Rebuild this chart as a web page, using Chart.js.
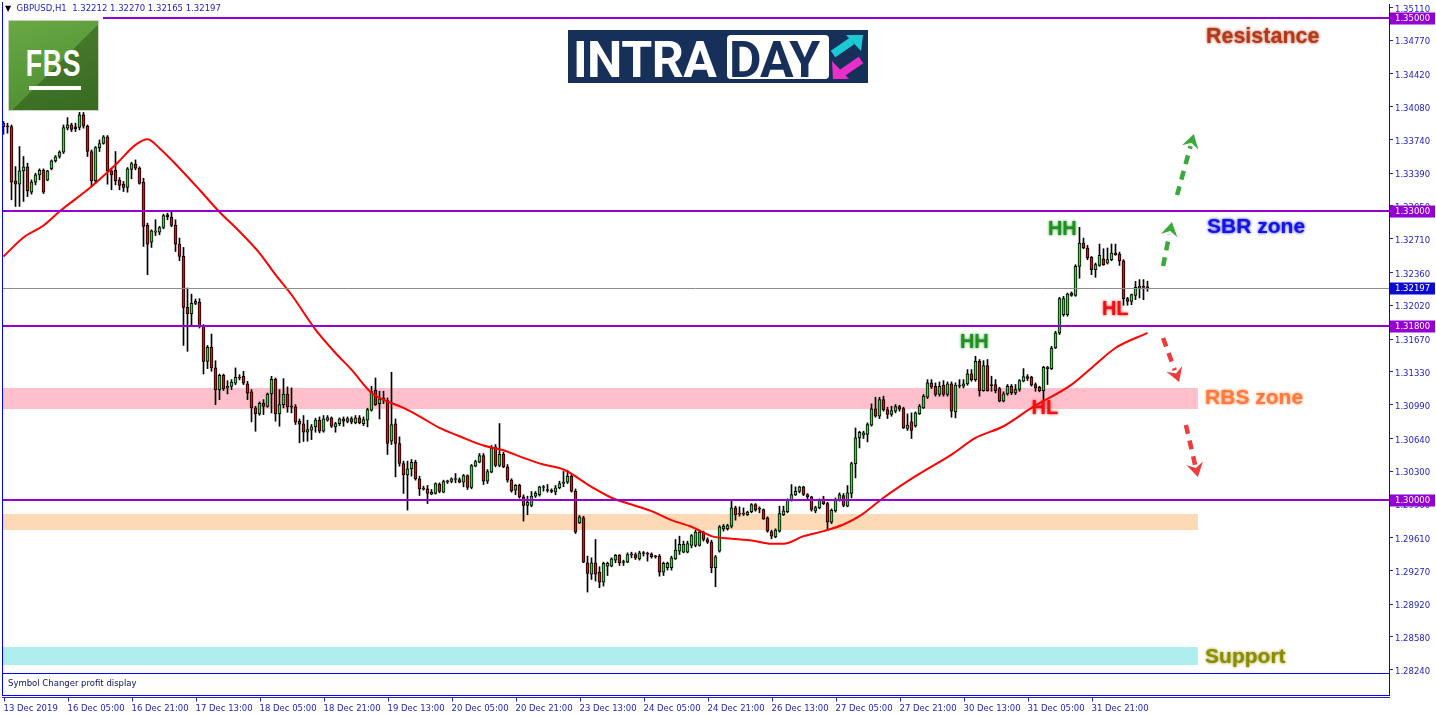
<!DOCTYPE html>
<html>
<head>
<meta charset="utf-8">
<script src="https://cdn.jsdelivr.net/npm/chart.js@4.4.1/dist/chart.umd.min.js"></script>
<style>
  html, body { margin: 0; padding: 0; background: #fff; }
  #wrap { position: relative; width: 1436px; height: 716px; overflow: hidden; }
  #chart { position: absolute; left: 0; top: 0; }
  #header { position: absolute; left: 5px; top: 3px; font: 8.5px "DejaVu Sans", sans-serif; color: #2323c0; white-space: pre; }
  #header b { font-weight: normal; color: #000; font-size: 8px; }
  #fbsBox { position: absolute; left: 3px; top: 13px; width: 100px; height: 99px; background: #fff; }
  #fbs { position: absolute; left: 8px; top: 20px; width: 89px; height: 89px; border: 1px solid #c8d4c0;
         background: linear-gradient(135deg, rgba(0,0,0,0) 52%, rgba(20,50,10,0.35) 52%), linear-gradient(160deg, #6aa845, #4a8a2c); overflow: hidden; }
  #fbs span { position: absolute; left: 2px; top: 22px; width: 85px; text-align: center; font: bold 37px "Liberation Sans", Arial, sans-serif; color: #fff; transform: scaleX(0.72); letter-spacing: 1px; }
  #fbs i { position: absolute; left: 20px; top: 65px; width: 52px; height: 4px; background: #fff; }
  #intraday { position: absolute; left: 568px; top: 30px; width: 300px; height: 53px; background: #17305a; }
  #intraday .intra { position: absolute; left: 5px; top: 1px; font: bold 50px Roboto, sans-serif; color: #fff; letter-spacing: -0.5px; }
  #intraday .day { position: absolute; left: 159px; top: 5px; width: 102px; height: 44px; background: #fff; border-radius: 4px; }
  #intraday .day span { position: absolute; left: 2px; top: -4px; font: bold 50px Roboto, sans-serif; color: #17305a; letter-spacing: -1px; }
  #intraday svg { position: absolute; left: 262px; top: 4px; }
  #sympanel { position: absolute; left: 2px; top: 673px; width: 1386px; height: 21px; border: 1px solid #0000ff; }
  #sympanel span { position: absolute; left: 5px; top: 4px; font: 8.5px "DejaVu Sans", sans-serif; color: #101060; }
</style>
</head>
<body>
<div id="wrap">
  <canvas id="chart" width="1436" height="716"></canvas>
  <div id="header"><b>&#9660;</b>  GBPUSD,H1  1.32212 1.32270 1.32165 1.32197</div>
  <div id="fbsBox"></div>
  <div id="fbs"><span>FBS</span><i></i></div>
  <div id="intraday">
    <div class="intra">INTRA</div>
    <div class="day"><span>DAY</span></div>
    <svg width="34" height="46" viewBox="0 0 34 46">
      <line x1="3" y1="20" x2="22" y2="7" stroke="#1ec9d6" stroke-width="8"/>
      <polygon points="16,1 33,1 31,17" fill="#1ec9d6"/>
      <line x1="31" y1="26" x2="12" y2="39" stroke="#ea2ec9" stroke-width="8"/>
      <polygon points="2,27 3,45 19,45" fill="#ea2ec9"/>
    </svg>
  </div>
  <div id="sympanel"><span>Symbol Changer profit display</span></div>
</div>
<script>
// GBPUSD H1 candles, bar 0 = 13 Dec 2019
const opens = [
  1.33909,1.33877,1.33874,1.33311,1.33276,1.33414,1.33456,1.33193,1.33297,1.33373,
  1.33421,1.33318,1.33435,1.33518,1.33563,1.33608,1.33857,1.33891,1.33870,1.33864,
  1.33995,1.33877,1.33615,1.33311,1.33656,1.33698,1.33767,1.33414,1.33421,1.33318,
  1.33276,1.33242,1.33428,1.33484,1.33442,1.33297,1.32848,1.32675,1.32779,1.32779,
  1.32827,1.32958,1.32931,1.32848,1.32655,1.32527,1.31998,1.31929,1.32040,1.32053,
  1.31801,1.31438,1.31584,1.31370,1.31141,1.31294,1.31162,1.31179,1.31211,1.31273,
  1.31283,1.31204,1.31121,1.30955,1.30893,1.31003,1.30972,1.31100,1.31252,1.30893,
  1.30990,1.31100,1.30969,1.30966,1.30817,1.30790,1.30703,1.30724,1.30758,1.30828,
  1.30714,1.30828,1.30852,1.30758,1.30793,1.30841,1.30814,1.30845,1.30800,1.30852,
  1.30793,1.30828,1.30931,1.31138,1.31000,1.31059,1.31035,1.30610,1.30790,1.30586,
  1.30379,1.30261,1.30323,1.30392,1.30220,1.30120,1.30116,1.30061,1.30068,1.30164,
  1.30081,1.30195,1.30192,1.30213,1.30213,1.30185,1.30254,1.30130,1.30351,1.30392,
  1.30461,1.30195,1.30289,1.30551,1.30358,1.30475,1.30344,1.30206,1.30102,1.30151,
  1.30033,1.29943,1.29943,1.30040,1.30054,1.30130,1.30105,1.30102,1.30085,1.30126,
  1.30171,1.30185,1.30247,1.30091,1.29763,1.29815,1.29349,1.29231,1.29349,1.29252,
  1.29148,1.29314,1.29314,1.29376,1.29425,1.29359,1.29356,1.29438,1.29435,1.29390,
  1.29452,1.29445,1.29438,1.29418,1.29418,1.29252,1.29297,1.29297,1.29390,1.29469,
  1.29459,1.29459,1.29528,1.29528,1.29528,1.29666,1.29590,1.29563,1.29297,1.29469,
  1.29701,1.29701,1.29728,1.29918,1.29860,1.29860,1.29849,1.29880,1.29953,1.29911,
  1.29901,1.29815,1.29673,1.29618,1.29677,1.29849,1.29880,1.29998,1.30053,1.30088,
  1.30136,1.30057,1.30032,1.29887,1.29918,1.30012,1.29963,1.29770,1.29887,1.29998,
  1.30046,1.29936,1.30067,1.30378,1.30644,1.30673,1.30679,1.30776,1.30945,1.30869,
  1.31042,1.30938,1.30887,1.30921,1.30970,1.30949,1.30742,1.30811,1.30769,1.30893,
  1.30956,1.31066,1.31215,1.31180,1.31094,1.31191,1.31094,1.31204,1.30914,1.31187,
  1.31180,1.31204,1.31308,1.31249,1.31439,1.31135,1.31394,1.31194,1.31198,1.31156,
  1.31025,1.31101,1.31180,1.31111,1.31146,1.31232,1.31280,1.31274,1.31198,1.31170,
  1.31135,1.31363,1.31363,1.31577,1.31733,1.31923,1.31923,1.32147,1.32123,1.32424,
  1.32665,1.32614,1.32517,1.32389,1.32434,1.32503,1.32458,1.32493,1.32562,1.32551,
  1.32482,1.32089,1.32061,1.32123,1.32199,1.32213,1.32212
];
const highs = [
  1.33926,1.33909,1.33891,1.33459,1.33667,1.33563,1.33494,1.33321,1.33390,1.33435,
  1.33435,1.33421,1.33528,1.33573,1.33622,1.33891,1.33967,1.33909,1.33909,1.34029,
  1.34020,1.33891,1.33632,1.33667,1.33736,1.33781,1.33781,1.33442,1.33615,1.33345,
  1.33304,1.33449,1.33504,1.33528,1.33456,1.33338,1.32872,1.32803,1.32907,1.32838,
  1.32965,1.32976,1.32986,1.32907,1.32717,1.32620,1.32199,1.32136,1.32085,1.32088,
  1.31819,1.31604,1.31722,1.31445,1.31307,1.31307,1.31238,1.31249,1.31370,1.31300,
  1.31335,1.31231,1.31145,1.30972,1.31017,1.31041,1.31110,1.31283,1.31266,1.31145,
  1.31259,1.31173,1.31163,1.30990,1.30841,1.30876,1.30828,1.30783,1.30848,1.30862,
  1.30876,1.30876,1.30862,1.30807,1.30852,1.30862,1.30862,1.30862,1.30876,1.30876,
  1.30862,1.30952,1.31180,1.31266,1.31128,1.31128,1.31059,1.31325,1.30841,1.30655,
  1.30403,1.30403,1.30420,1.30413,1.30247,1.30144,1.30151,1.30109,1.30178,1.30178,
  1.30206,1.30206,1.30230,1.30275,1.30230,1.30265,1.30261,1.30368,1.30413,1.30482,
  1.30482,1.30316,1.30565,1.30575,1.30793,1.30496,1.30368,1.30220,1.30161,1.30164,
  1.30054,1.30040,1.30088,1.30088,1.30144,1.30151,1.30161,1.30116,1.30151,1.30195,
  1.30296,1.30309,1.30261,1.30115,1.29839,1.29832,1.29418,1.29400,1.29590,1.29307,
  1.29356,1.29356,1.29400,1.29435,1.29435,1.29376,1.29452,1.29459,1.29452,1.29469,
  1.29466,1.29459,1.29452,1.29425,1.29435,1.29356,1.29356,1.29418,1.29590,1.29625,
  1.29573,1.29573,1.29642,1.29687,1.29687,1.29677,1.29608,1.29583,1.29425,1.29735,
  1.29746,1.29749,1.29988,1.29936,1.29929,1.29918,1.29884,1.29963,1.29963,1.29929,
  1.29908,1.29825,1.29687,1.29701,1.29936,1.29936,1.30012,1.30160,1.30136,1.30143,
  1.30143,1.30067,1.30039,1.29936,1.30012,1.30039,1.29977,1.29908,1.30022,1.30074,
  1.30067,1.30150,1.30392,1.30747,1.30713,1.30714,1.30800,1.30997,1.31066,1.31066,
  1.31077,1.30963,1.30973,1.30990,1.30983,1.30963,1.30893,1.30904,1.30914,1.30990,
  1.31094,1.31249,1.31249,1.31215,1.31225,1.31239,1.31225,1.31225,1.31215,1.31249,
  1.31249,1.31353,1.31353,1.31491,1.31457,1.31446,1.31457,1.31284,1.31249,1.31170,
  1.31122,1.31198,1.31198,1.31198,1.31249,1.31363,1.31301,1.31284,1.31215,1.31180,
  1.31387,1.31387,1.31595,1.31750,1.32102,1.32113,1.32147,1.32158,1.32441,1.32828,
  1.32717,1.32641,1.32527,1.32458,1.32655,1.32607,1.32614,1.32655,1.32655,1.32572,
  1.32493,1.32102,1.32137,1.32268,1.32286,1.32286,1.32270
];
const lows = [
  1.33794,1.33805,1.33114,1.33045,1.33045,1.33097,1.33148,1.33173,1.33269,1.33321,
  1.33179,1.33311,1.33425,1.33504,1.33546,1.33594,1.33839,1.33822,1.33822,1.33839,
  1.33857,1.33563,1.33252,1.33287,1.33615,1.33691,1.33276,1.33218,1.33269,1.33218,
  1.33200,1.33193,1.33332,1.33425,1.33276,1.32630,1.32337,1.32620,1.32744,1.32751,
  1.32813,1.32907,1.32834,1.32578,1.32482,1.31604,1.31542,1.31819,1.32026,1.31784,
  1.31307,1.31363,1.31335,1.30990,1.31041,1.31135,1.31100,1.31145,1.31197,1.31245,
  1.31197,1.31041,1.30810,1.30713,1.30879,1.30886,1.30962,1.30903,1.30817,1.30765,
  1.30955,1.30910,1.30904,1.30783,1.30593,1.30607,1.30610,1.30627,1.30703,1.30696,
  1.30703,1.30817,1.30752,1.30703,1.30772,1.30765,1.30800,1.30790,1.30790,1.30790,
  1.30772,1.30758,1.30921,1.30980,1.30841,1.31000,1.30472,1.30575,1.30240,1.30351,
  1.30068,1.29895,1.30247,1.30206,1.30047,1.30102,1.29964,1.30054,1.30061,1.30075,
  1.30075,1.30171,1.30178,1.30178,1.30178,1.30137,1.30109,1.30116,1.30344,1.30385,
  1.30161,1.30171,1.30282,1.30344,1.30344,1.30334,1.30185,1.30081,1.30054,1.30019,
  1.29781,1.29847,1.29930,1.30026,1.30040,1.30092,1.30081,1.30075,1.30054,1.30116,
  1.30137,1.30171,1.30081,1.29653,1.29756,1.29349,1.29045,1.29176,1.29159,1.29090,
  1.29107,1.29217,1.29307,1.29349,1.29321,1.29321,1.29349,1.29400,1.29383,1.29376,
  1.29418,1.29366,1.29397,1.29397,1.29210,1.29217,1.29273,1.29273,1.29383,1.29435,
  1.29452,1.29452,1.29504,1.29514,1.29521,1.29573,1.29549,1.29245,1.29100,1.29459,
  1.29677,1.29687,1.29711,1.29791,1.29832,1.29839,1.29839,1.29867,1.29884,1.29867,
  1.29798,1.29666,1.29597,1.29608,1.29666,1.29839,1.29867,1.29988,1.30046,1.30074,
  1.30046,1.30012,1.29884,1.29867,1.29908,1.29953,1.29694,1.29756,1.29874,1.29988,
  1.29929,1.29929,1.30022,1.30229,1.30540,1.30638,1.30603,1.30766,1.30859,1.30845,
  1.30921,1.30845,1.30869,1.30904,1.30921,1.30742,1.30721,1.30638,1.30755,1.30887,
  1.30949,1.31052,1.31156,1.31077,1.31077,1.31077,1.31077,1.30859,1.30852,1.31163,
  1.31163,1.31191,1.31232,1.31232,1.31077,1.31128,1.31128,1.31128,1.31111,1.31018,
  1.31018,1.31087,1.31094,1.31094,1.31128,1.31225,1.31239,1.31180,1.31128,1.31122,
  1.31042,1.31198,1.31353,1.31571,1.31716,1.31906,1.31906,1.32113,1.32113,1.32300,
  1.32607,1.32493,1.32337,1.32310,1.32424,1.32434,1.32448,1.32482,1.32538,1.32434,
  1.32020,1.32020,1.32026,1.32078,1.32096,1.32078,1.32165
];
const closes = [
  1.33874,1.33870,1.33297,1.33276,1.33414,1.33456,1.33207,1.33297,1.33373,1.33421,
  1.33193,1.33414,1.33518,1.33560,1.33608,1.33864,1.33891,1.33843,1.33850,1.33995,
  1.33877,1.33615,1.33311,1.33656,1.33698,1.33767,1.33414,1.33373,1.33311,1.33262,
  1.33242,1.33435,1.33491,1.33442,1.33283,1.32838,1.32655,1.32793,1.32786,1.32827,
  1.32951,1.32938,1.32848,1.32655,1.32527,1.31998,1.31929,1.32040,1.32060,1.31801,
  1.31438,1.31584,1.31370,1.31141,1.31294,1.31155,1.31179,1.31224,1.31273,1.31266,
  1.31211,1.31107,1.30955,1.30893,1.31003,1.30972,1.31100,1.31252,1.30893,1.30990,
  1.31100,1.30966,1.30962,1.30807,1.30786,1.30703,1.30731,1.30758,1.30828,1.30714,
  1.30841,1.30855,1.30765,1.30793,1.30841,1.30817,1.30845,1.30807,1.30852,1.30800,
  1.30834,1.30938,1.31125,1.30990,1.31049,1.31035,1.30586,1.30783,1.30586,1.30379,
  1.30261,1.30323,1.30392,1.30220,1.30116,1.30113,1.30068,1.30081,1.30171,1.30088,
  1.30192,1.30188,1.30220,1.30220,1.30185,1.30254,1.30130,1.30358,1.30399,1.30461,
  1.30195,1.30296,1.30541,1.30358,1.30475,1.30344,1.30206,1.30095,1.30151,1.30033,
  1.29943,1.29978,1.30040,1.30068,1.30137,1.30137,1.30099,1.30088,1.30126,1.30171,
  1.30185,1.30247,1.30092,1.29666,1.29825,1.29356,1.29238,1.29349,1.29231,1.29148,
  1.29342,1.29342,1.29390,1.29425,1.29349,1.29352,1.29435,1.29431,1.29400,1.29452,
  1.29445,1.29438,1.29411,1.29411,1.29252,1.29342,1.29342,1.29400,1.29480,1.29539,
  1.29539,1.29549,1.29632,1.29666,1.29666,1.29590,1.29563,1.29297,1.29411,1.29722,
  1.29728,1.29735,1.29918,1.29849,1.29853,1.29853,1.29874,1.29953,1.29894,1.29905,
  1.29804,1.29677,1.29625,1.29687,1.29860,1.29887,1.29998,1.30057,1.30091,1.30136,
  1.30057,1.30032,1.29901,1.29922,1.30005,1.29963,1.29770,1.29894,1.29998,1.30057,
  1.29943,1.30074,1.30378,1.30644,1.30703,1.30697,1.30783,1.30945,1.30869,1.31042,
  1.30938,1.30887,1.30928,1.30970,1.30942,1.30748,1.30776,1.30721,1.30904,1.30973,
  1.31077,1.31215,1.31170,1.31094,1.31180,1.31094,1.31204,1.30921,1.31191,1.31180,
  1.31204,1.31308,1.31249,1.31439,1.31135,1.31394,1.31135,1.31187,1.31135,1.31025,
  1.31101,1.31180,1.31111,1.31146,1.31239,1.31280,1.31260,1.31191,1.31163,1.31135,
  1.31377,1.31377,1.31577,1.31733,1.32089,1.32089,1.32137,1.32123,1.32424,1.32665,
  1.32614,1.32510,1.32389,1.32441,1.32538,1.32441,1.32493,1.32562,1.32545,1.32482,
  1.32089,1.32061,1.32130,1.32206,1.32216,1.32206,1.32197
];

// moving average, read at these bars
const maBars = [0,5,10,14,22,28,33,36,39,44,49,54,59,64,68,72,78,83,87,92,95,100,104,109,114,120,125,130,135,140,147,152,157,162,167,172,177,182,187,192,195,200,205,210,214,220,228,237,243,250,257,267,272,278,286];
const maValues = [1.32526,1.32723,1.32848,1.32993,1.33252,1.33477,1.33684,1.33743,1.33650,1.33442,1.33218,1.32987,1.32785,1.32562,1.32337,1.32129,1.31767,1.31525,1.31352,1.31111,1.31041,1.30955,1.30868,1.30748,1.30661,1.30565,1.30516,1.30437,1.30368,1.30316,1.30137,1.30023,1.29953,1.29884,1.29791,1.29722,1.29625,1.29598,1.29580,1.29546,1.29546,1.29625,1.29677,1.29746,1.29832,1.30023,1.30247,1.30471,1.30644,1.30765,1.30955,1.31197,1.31370,1.31577,1.31733];

const tickBars = [0,16,32,48,64,80,96,112,128,144,160,176,192,208,224,240,256,272];
const timeLabels = ['13 Dec 2019','16 Dec 05:00','16 Dec 21:00','17 Dec 13:00','18 Dec 05:00','18 Dec 21:00','19 Dec 13:00','20 Dec 05:00','20 Dec 21:00','23 Dec 13:00','24 Dec 05:00','24 Dec 21:00','26 Dec 13:00','27 Dec 05:00','27 Dec 21:00','30 Dec 13:00','31 Dec 05:00','31 Dec 21:00'];
const priceTicks = [1.35110,1.34770,1.34420,1.34080,1.33740,1.33390,1.33050,1.32710,1.32360,1.32020,1.31670,1.31330,1.30990,1.30640,1.30300,1.29960,1.29610,1.29270,1.28920,1.28580,1.28240];

const levels = [1.35000, 1.33000, 1.31800, 1.30000];
const bidPrice = 1.32197;
const zoneTops = [1.31162, 1.29855, 1.28475];
const zoneBottoms = [1.30944, 1.29689, 1.28288];
const zoneEndBar = 298.6;

const zoneColors = ['#ffc0cb', '#fdd9b5', '#afeeee'];
const notes = [
  { text: 'Resistance', bar: 300.6, price: 1.34803, color: '#b23a1a', size: 21.5 },
  { text: 'SBR zone',   bar: 300.9, price: 1.32832, color: '#1414e6', size: 21 },
  { text: 'RBS zone',   bar: 300.4, price: 1.31058, color: '#ff7a3c', size: 21 },
  { text: 'Support',    bar: 300.4, price: 1.28371, color: '#8c8c00', size: 21 },
  { text: 'HH', bar: 261.1, price: 1.32806, color: '#1f8f1f', size: 20 },
  { text: 'HH', bar: 239.1, price: 1.31634, color: '#1f8f1f', size: 20 },
  { text: 'HL', bar: 274.6, price: 1.31976, color: '#ee1111', size: 20 },
  { text: 'HL', bar: 257.0, price: 1.30949, color: '#ee1111', size: 20 }
];
const arrows = [
  { from: [289.9, 1.32427], to: [292.1, 1.32884], color: '#3aa83a' },
  { from: [293.4, 1.33164], to: [297.6, 1.33797], color: '#3aa83a' },
  { from: [289.9, 1.31680], to: [293.9, 1.31224], color: '#ee3b3b' },
  { from: [295.6, 1.30778], to: [298.6, 1.30239], color: '#ee3b3b' }
];

const AXIS_BLUE = '#2323c0';
const LEVEL = '#9400d3';

function dashedArrow(ctx, x1, y1, x2, y2, color) {
  const ang = Math.atan2(y2 - y1, x2 - x1);
  const head = 14;
  ctx.save();
  ctx.strokeStyle = color;
  ctx.fillStyle = color;
  ctx.lineWidth = 4.5;
  ctx.setLineDash([9, 7]);
  ctx.beginPath();
  ctx.moveTo(x1, y1);
  ctx.lineTo(x2 - Math.cos(ang) * head * 0.9, y2 - Math.sin(ang) * head * 0.9);
  ctx.stroke();
  ctx.setLineDash([]);
  ctx.translate(x2, y2);
  ctx.rotate(ang);
  ctx.beginPath();
  ctx.moveTo(0, 0);
  ctx.lineTo(-head, -head * 0.6);
  ctx.lineTo(-head * 0.65, 0);
  ctx.lineTo(-head, head * 0.6);
  ctx.closePath();
  ctx.fill();
  ctx.restore();
}

const overlay = {
  id: 'overlay',
  beforeDatasetsDraw(chart) {
    const { ctx, chartArea, scales: { x, y } } = chart;
    const x0 = chartArea.left + 1;
    const x1 = x.getPixelForValue(zoneEndBar);
    zoneTops.forEach((top, i) => {
      const yt = y.getPixelForValue(top);
      const yb = y.getPixelForValue(zoneBottoms[i]);
      ctx.fillStyle = zoneColors[i];
      ctx.fillRect(x0, yt, x1 - x0, yb - yt);
    });
  },
  afterDatasetsDraw(chart) {
    const { ctx, chartArea, scales: { x, y } } = chart;
    ctx.save();
    // bid line
    const by = Math.round(y.getPixelForValue(bidPrice)) + 0.5;
    ctx.strokeStyle = '#8c8c8c';
    ctx.lineWidth = 1;
    ctx.beginPath(); ctx.moveTo(chartArea.left, by); ctx.lineTo(chartArea.right, by); ctx.stroke();
    // level lines
    ctx.strokeStyle = LEVEL;
    ctx.lineWidth = 2;
    levels.forEach(v => {
      const ly = Math.round(y.getPixelForValue(v));
      ctx.beginPath(); ctx.moveTo(chartArea.left, ly); ctx.lineTo(chartArea.right, ly); ctx.stroke();
    });
    // text notes
    ctx.textBaseline = 'middle';
    ctx.textAlign = 'left';
    notes.forEach(n => {
      ctx.font = 'bold ' + n.size + 'px "Liberation Sans", Arial, sans-serif';
      ctx.fillStyle = n.color;
      ctx.shadowColor = n.color;
      ctx.shadowBlur = 3;
      ctx.fillText(n.text, x.getPixelForValue(n.bar), y.getPixelForValue(n.price));
    });
    ctx.shadowBlur = 0;
    arrows.forEach(a => {
      dashedArrow(ctx, x.getPixelForValue(a.from[0]), y.getPixelForValue(a.from[1]),
        x.getPixelForValue(a.to[0]), y.getPixelForValue(a.to[1]), a.color);
    });
    ctx.restore();
  },
  afterDraw(chart) {
    const { ctx, chartArea, scales: { x, y } } = chart;
    ctx.save();
    // price boxes on the axis
    ctx.font = '8.5px "DejaVu Sans", sans-serif';
    ctx.textBaseline = 'middle';
    ctx.textAlign = 'left';
    const boxes = levels.map(v => [v, LEVEL]).concat([[bidPrice, '#0a0ad2']]);
    boxes.forEach(([v, col]) => {
      const py = Math.round(y.getPixelForValue(v)) + 0.5;
      ctx.fillStyle = col;
      ctx.fillRect(chartArea.right + 1, py - 6, 45, 12);
      ctx.fillStyle = '#ffffff';
      ctx.fillText(v.toFixed(5), chartArea.right + 6, py + 0.5);
    });
    // left frame
    ctx.strokeStyle = '#0000ff';
    ctx.lineWidth = 1;
    ctx.beginPath(); ctx.moveTo(chartArea.left + 0.5, 2); ctx.lineTo(chartArea.left + 0.5, 696); ctx.stroke();
    // time axis line and ticks
    ctx.strokeStyle = AXIS_BLUE;
    ctx.beginPath(); ctx.moveTo(chartArea.left, 697.5); ctx.lineTo(chartArea.right + 1, 697.5); ctx.stroke();
    tickBars.forEach(b => {
      const tx = Math.round(x.getPixelForValue(b)) + 0.5;
      ctx.beginPath(); ctx.moveTo(tx, 697.5); ctx.lineTo(tx, 701.5); ctx.stroke();
    });
    ctx.restore();
  }
};

new Chart(document.getElementById('chart'), {
  type: 'bar',
  data: {
    datasets: [
      {
        type: 'line',
        label: 'MA',
        data: maBars.map((b, i) => ({ x: b, y: maValues[i] })),
        borderColor: '#ff0000',
        borderWidth: 2,
        pointRadius: 0,
        cubicInterpolationMode: 'monotone',
        order: 1
      },
      {
        label: 'body',
        data: opens.map((o, i) => ({ x: i, y: [o, closes[i]] })),
        backgroundColor: opens.map((o, i) => closes[i] >= o ? '#38d838' : '#dd1111'),
        borderColor: '#000000',
        borderWidth: 1,
        borderSkipped: false,
        barThickness: 3,
        minBarLength: 1,
        grouped: false,
        order: 2
      },
      {
        label: 'wick',
        data: lows.map((l, i) => ({ x: i, y: [l, highs[i]] })),
        backgroundColor: '#000000',
        borderWidth: 0,
        barThickness: 1,
        grouped: false,
        order: 3
      }
    ]
  },
  options: {
    responsive: false,
    animation: false,
    events: [],
    layout: { padding: { left: 2, top: 4, right: 0, bottom: 0 } },
    plugins: { legend: { display: false }, tooltip: { enabled: false } },
    scales: {
      x: {
        type: 'linear',
        min: -0.375,
        max: 346.375,
        offset: false,
        afterBuildTicks: s => { s.ticks = tickBars.map(v => ({ value: v })); },
        afterFit: s => { s.height = 43; s.paddingLeft = 0; s.paddingRight = 0; },
        grid: { display: false, drawTicks: false, offset: false },
        border: { display: false },
        ticks: {
          autoSkip: false,
          maxRotation: 0,
          align: 'start',
          padding: 31,
          color: AXIS_BLUE,
          font: { family: 'DejaVu Sans', size: 8.5 },
          callback: v => timeLabels[tickBars.indexOf(v)]
        }
      },
      y: {
        position: 'right',
        min: 1.282054,
        max: 1.3514523,
        afterBuildTicks: s => { s.ticks = priceTicks.map(v => ({ value: v })); },
        afterFit: s => { s.width = 47; s.paddingTop = 0; s.paddingBottom = 0; },
        grid: { drawOnChartArea: false, tickLength: 4, color: AXIS_BLUE },
        border: { color: '#0000ff' },
        ticks: {
          autoSkip: false,
          padding: 2,
          labelOffset: 2,
          color: AXIS_BLUE,
          font: { family: 'DejaVu Sans', size: 8.5 },
          callback: v => v.toFixed(5)
        }
      }
    }
  },
  plugins: [overlay]
});
</script>
</body>
</html>
